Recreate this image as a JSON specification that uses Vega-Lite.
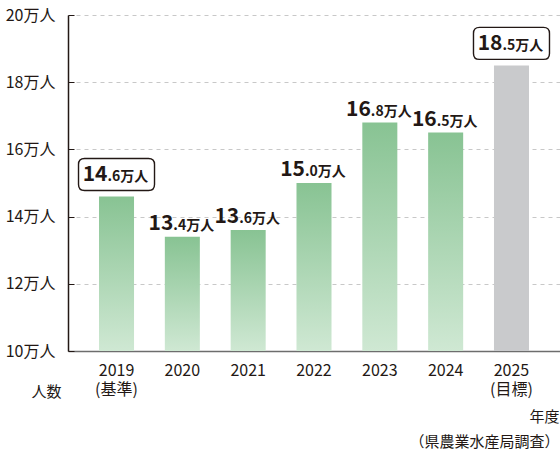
{
  "$schema": "https://vega.github.io/schema/vega-lite/v6.json",
  "width": 492,
  "height": 336,
  "autosize": {"type": "none"},
  "padding": {"left": 68, "top": 15, "right": 0, "bottom": 98},
  "background": "white",
  "config": {
    "view": {"stroke": null},
    "font": "Noto Sans CJK JP",
    "axis": {"labelFont": "Noto Sans CJK JP", "titleFont": "Noto Sans CJK JP"}
  },
  "data": {
    "values": [
      {"year": "2019", "value": 14.6, "big": "14", "small": ".6万人", "kind": "base"},
      {"year": "2020", "value": 13.4, "big": "13", "small": ".4万人", "kind": "actual"},
      {"year": "2021", "value": 13.6, "big": "13", "small": ".6万人", "kind": "actual"},
      {"year": "2022", "value": 15.0, "big": "15", "small": ".0万人", "kind": "actual"},
      {"year": "2023", "value": 16.8, "big": "16", "small": ".8万人", "kind": "actual"},
      {"year": "2024", "value": 16.5, "big": "16", "small": ".5万人", "kind": "actual"},
      {"year": "2025", "value": 18.5, "big": "18", "small": ".5万人", "kind": "target"}
    ]
  },
  "encoding": {
    "x": {
      "field": "year",
      "type": "nominal",
      "sort": null,
      "scale": {"paddingInner": 0.468, "paddingOuter": 0.471},
      "axis": {
        "title": ["年度", "（県農業水産局調査）"],
        "titleX": 491,
        "titleY": 58,
        "titleAlign": "right",
        "titleBaseline": "top",
        "titleLineHeight": 25,
        "titleFontSize": 15,
        "titleFontWeight": "normal",
        "titleColor": "#231815",
        "labelAngle": 0,
        "labelFontSize": 16,
        "labelColor": "#231815",
        "labelPadding": 11,
        "labelLineHeight": 19,
        "labelExpr": "datum.value == '2019' ? ['2019', '(基準)'] : datum.value == '2025' ? ['2025', '(目標)'] : datum.value",
        "ticks": false,
        "domainColor": "#6d6d6d",
        "domainWidth": 1.5
      }
    },
    "y": {
      "field": "value",
      "type": "quantitative",
      "scale": {"domain": [10, 20], "nice": false, "zero": false},
      "axis": {
        "values": [10, 12, 14, 16, 18, 20],
        "labelExpr": "datum.value + '万人'",
        "labelFontSize": 16,
        "labelColor": "#231815",
        "labelPadding": 19,
        "tickSize": -6,
        "tickColor": "#231815",
        "domainColor": "#231815",
        "domainWidth": 1.5,
        "grid": true,
        "gridColor": "#c8c8c8",
        "gridDash": [4, 4],
        "title": "人数",
        "titleAngle": 0,
        "titleX": -7,
        "titleY": 376,
        "titleAlign": "right",
        "titleBaseline": "middle",
        "titleFontSize": 15,
        "titleFontWeight": "normal",
        "titleColor": "#231815"
      }
    }
  },
  "layer": [
    {
      "transform": [{"filter": "datum.kind != 'target'"}],
      "mark": {
        "type": "bar",
        "color": {
          "gradient": "linear",
          "x1": 0, "y1": 0, "x2": 0, "y2": 1,
          "stops": [
            {"offset": 0, "color": "#88c393"},
            {"offset": 1, "color": "#cfe8d3"}
          ]
        }
      },
      "encoding": {"y2": {"datum": 10}}
    },
    {
      "transform": [{"filter": "datum.kind == 'target'"}],
      "mark": {"type": "bar", "color": "#c9cacc"},
      "encoding": {"y2": {"datum": 10}}
    },
    {
      "transform": [{"filter": "datum.kind != 'actual'"}],
      "mark": {
        "type": "point",
        "shape": "M -0.842 -0.421 L 0.842 -0.421 Q 1 -0.421 1 -0.263 L 1 0.263 Q 1 0.421 0.842 0.421 L -0.842 0.421 Q -1 0.421 -1 0.263 L -1 -0.263 Q -1 -0.421 -0.842 -0.421 Z",
        "size": 5776,
        "filled": false,
        "fill": "white",
        "fillOpacity": 1,
        "stroke": "#231815",
        "strokeWidth": 1.4,
        "opacity": 1,
        "yOffset": -22
      }
    },
    {
      "transform": [{"filter": "datum.kind == 'actual'"}],
      "mark": {"type": "text", "align": "right", "baseline": "alphabetic", "dx": -9, "dy": -7, "fontSize": 21, "fontWeight": "bold", "color": "#231815"},
      "encoding": {"text": {"field": "big"}}
    },
    {
      "transform": [{"filter": "datum.kind == 'actual'"}],
      "mark": {"type": "text", "align": "left", "baseline": "alphabetic", "dx": -9, "dy": -7, "fontSize": 14, "fontWeight": "bold", "color": "#231815"},
      "encoding": {"text": {"field": "small"}}
    },
    {
      "transform": [{"filter": "datum.kind != 'actual'"}],
      "mark": {"type": "text", "align": "right", "baseline": "alphabetic", "dx": -9, "dy": -15, "fontSize": 21, "fontWeight": "bold", "color": "#231815"},
      "encoding": {"text": {"field": "big"}}
    },
    {
      "transform": [{"filter": "datum.kind != 'actual'"}],
      "mark": {"type": "text", "align": "left", "baseline": "alphabetic", "dx": -9, "dy": -15, "fontSize": 14, "fontWeight": "bold", "color": "#231815"},
      "encoding": {"text": {"field": "small"}}
    }
  ]
}
